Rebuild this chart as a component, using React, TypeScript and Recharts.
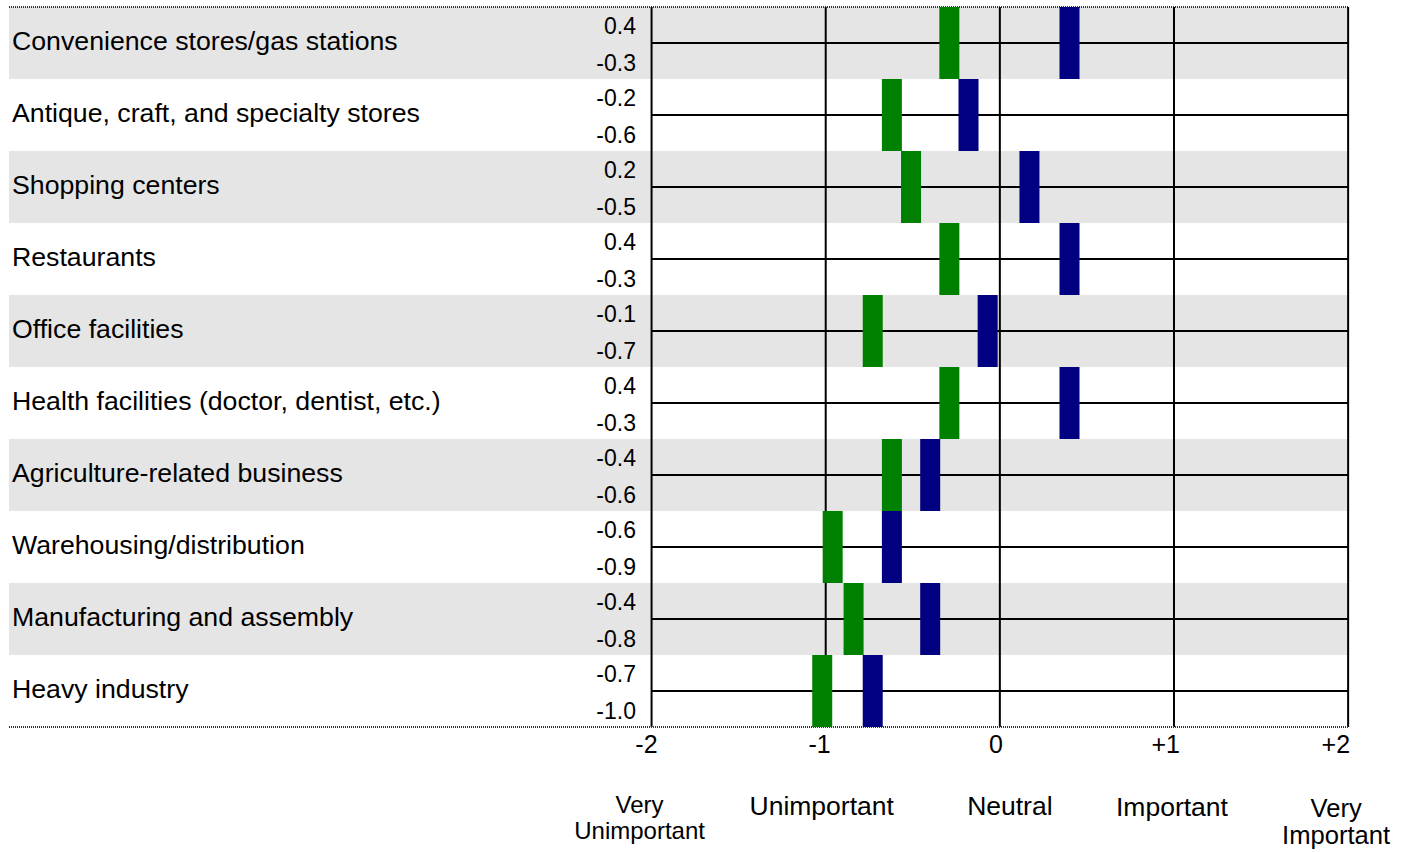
import React from 'react';
import { ScatterChart, Scatter, XAxis, YAxis, ReferenceArea, ReferenceLine } from 'recharts';

// ---------- data ----------
const categories = [
  'Convenience stores/gas stations',
  'Antique, craft, and specialty stores',
  'Shopping centers',
  'Restaurants',
  'Office facilities',
  'Health facilities (doctor, dentist, etc.)',
  'Agriculture-related business',
  'Warehousing/distribution',
  'Manufacturing and assembly',
  'Heavy industry',
];
// blue markers (upper value in each row)
const upperValues = [0.4, -0.18, 0.17, 0.4, -0.07, 0.4, -0.4, -0.62, -0.4, -0.73];
// green markers (lower value in each row)
const lowerValues = [-0.29, -0.62, -0.51, -0.29, -0.73, -0.29, -0.62, -0.96, -0.84, -1.02];
const upperLabels = ['0.4', '-0.2', '0.2', '0.4', '-0.1', '0.4', '-0.4', '-0.6', '-0.4', '-0.7'];
const lowerLabels = ['-0.3', '-0.6', '-0.5', '-0.3', '-0.7', '-0.3', '-0.6', '-0.9', '-0.8', '-1.0'];
const xTicks = [-2, -1, 0, 1, 2];
const xTickLabels = ['-2', '-1', '0', '+1', '+2'];
const scaleLabels = [['Very', 'Unimportant'], ['Unimportant'], ['Neutral'], ['Important'], ['Very', 'Important']];

// ---------- style / layout ----------
const W = 1412;
const H = 852;
const FONT = '"Liberation Sans", Arial, Helvetica, sans-serif';
const GRAY = '#e5e5e5';
const GREEN = '#008000';
const BLUE = '#000080';
const X_DOMAIN: [number, number] = [-5.69, 2.005];
const ROW_H = 72;
const BAR_W = 20;
const tickRightOffsets = [6, 5, 3, 6, 2];
const scaleDx = [-12, -4, 10, -2, -12];
const scaleFont = [24, 26.5, 26.5, 26.5, 25.6];
const scaleBaselines = [[86, 112], [88], [88], [89], [90, 117]];

const rowIdx = categories.map((_, i) => i);
const greenData = categories.map((c, i) => ({ x: lowerValues[i], y: i + 0.5, name: c }));
const blueData = categories.map((c, i) => ({ x: upperValues[i], y: i + 0.5, name: c }));
const yTicks = categories.map((_, i) => i + 0.5);

const makeShape = (fill: string) => (props: any) => {
  const { cx, cy } = props;
  if (cx == null || cy == null) return <g />;
  return <rect x={cx - BAR_W / 2} y={cy - ROW_H / 2} width={BAR_W} height={ROW_H} fill={fill} />;
};

const YTick = (props: any) => {
  const { y, payload } = props;
  const i = Math.floor(payload.value);
  return (
    <g fontFamily={FONT}>
      <text x={12} y={y + 7} fontSize={26.7} fill="#000" textAnchor="start">
        {categories[i]}
      </text>
      <text x={636} y={y - 9} fontSize={23} fill="#000" textAnchor="end">
        {upperLabels[i]}
      </text>
      <text x={636} y={y + 28} fontSize={23} fill="#000" textAnchor="end">
        {lowerLabels[i]}
      </text>
    </g>
  );
};

const XTick = (props: any) => {
  const { x, y, payload } = props;
  const i = xTicks.indexOf(payload.value);
  if (i < 0) return <g />;
  return (
    <g fontFamily={FONT}>
      <text x={x + tickRightOffsets[i]} y={y + 26} fontSize={25} fill="#000" textAnchor="end">
        {xTickLabels[i]}
      </text>
      {scaleLabels[i].map((line, k) => (
        <text
          key={k}
          x={x + scaleDx[i]}
          y={y + scaleBaselines[i][k]}
          fontSize={scaleFont[i]}
          fill="#000"
          textAnchor="middle"
        >
          {line}
        </text>
      ))}
    </g>
  );
};

export default function App() {
  return (
    <div style={{ position: 'absolute', left: 0, top: 0, width: W, height: H, background: '#fff' }}>
      <ScatterChart width={W} height={H} margin={{ top: 7, right: 63, bottom: 5, left: 8 }}>
        {rowIdx
          .filter((i) => i % 2 === 0)
          .map((i) => (
            <ReferenceArea
              key={'band' + i}
              x1={X_DOMAIN[0]}
              x2={2}
              y1={i}
              y2={i + 1}
              fill={GRAY}
              fillOpacity={1}
              stroke="none"
              zIndex={-200}
            />
          ))}
        <XAxis
          type="number"
          dataKey="x"
          domain={X_DOMAIN}
          ticks={xTicks}
          interval={0}
          height={120}
          tickSize={0}
          tickMargin={0}
          tickLine={false}
          axisLine={{ stroke: '#333', strokeWidth: 2, strokeDasharray: '1 1' }}
          tick={<XTick />}
          allowDataOverflow
        />
        <YAxis
          type="number"
          dataKey="y"
          domain={[0, 10]}
          reversed
          ticks={yTicks}
          interval={0}
          width={1}
          tickSize={0}
          tickMargin={0}
          tickLine={false}
          axisLine={false}
          tick={<YTick />}
          allowDataOverflow
        />
        <ReferenceLine y={0} stroke="#333" strokeWidth={2} strokeDasharray="1 1" zIndex={-100} />
        {xTicks.map((t) => (
          <ReferenceLine key={'v' + t} x={t} stroke="#000" strokeWidth={2} zIndex={-100} />
        ))}
        {rowIdx.map((i) => (
          <ReferenceLine
            key={'h' + i}
            segment={[
              { x: -2, y: i + 0.5 },
              { x: 2, y: i + 0.5 },
            ]}
            stroke="#000"
            strokeWidth={2}
            zIndex={-100}
          />
        ))}
        <Scatter data={greenData} fill={GREEN} shape={makeShape(GREEN)} isAnimationActive={false} />
        <Scatter data={blueData} fill={BLUE} shape={makeShape(BLUE)} isAnimationActive={false} />
      </ScatterChart>
    </div>
  );
}
